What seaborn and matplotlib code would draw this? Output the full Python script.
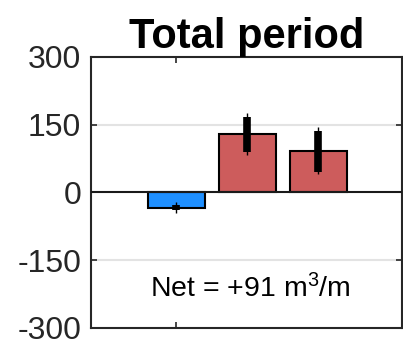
import matplotlib
matplotlib.use("Agg")
import matplotlib.pyplot as plt
import seaborn as sns
import pandas as pd

# Volume change components for the whole period (m^3/m)
components = ["Erosion", "Accretion", "Net"]
positions = [1, 2, 3]
volumes = [-34, 129, 91]
# Inner (thick) and outer (thin) uncertainty ranges
inner_low = [-38, 90, 46]
inner_high = [-27, 168, 136]
outer_low = [-45, 82, 40]
outer_high = [-20, 176, 144]
bar_colors = ["#1E8FFF", "#CD5C5C", "#CD5C5C"]
net_value = 91

sns.set_theme(style="white")
plt.rcParams["font.family"] = ["Liberation Sans", "DejaVu Sans"]
plt.rcParams["mathtext.default"] = "regular"
plt.rcParams["axes.unicode_minus"] = False

df = pd.DataFrame({"component": components, "pos": positions, "volume": volumes})

fig = plt.figure(figsize=(4.03, 3.40), dpi=100)
ax = fig.add_axes([0.2258, 0.0353, 0.7717, 0.7971])

# light grid at +/-150
for yv in (150, -150):
    ax.axhline(yv, color="#e3e3e3", lw=1.5, zorder=0)

sns.barplot(data=df, x="pos", y="volume", hue="component",
            palette=dict(zip(components, bar_colors)), native_scale=True,
            width=0.8, saturation=1, edgecolor="black", linewidth=1.5,
            legend=False, errorbar=None, ax=ax, zorder=2)

ax.axhline(0, color="#1a1a1a", lw=1.5, zorder=3)

ax.vlines(positions, outer_low, outer_high, color="black", lw=1.0, zorder=4)
ax.vlines(positions, inner_low, inner_high, color="black", lw=5.5, zorder=5)

ax.set_xlim(-0.2, 4.18)
ax.set_ylim(-300, 300)
ax.set_yticks([-300, -150, 0, 150, 300])
ax.set_xticks([1])
ax.set_xticklabels([""])
ax.set_xlabel("")
ax.set_ylabel("")

ax.tick_params(axis="y", direction="in", length=4, width=1.2, labelsize=23,
               left=True, right=True, pad=7, colors="#262626", labelcolor="#262626")
ax.tick_params(axis="x", direction="in", length=4, width=1.2, bottom=True,
               top=True, colors="#262626")
for sp in ax.spines.values():
    sp.set_visible(True)
    sp.set_color("#262626")
    sp.set_linewidth(1.5)

ax.set_title("Total period", fontsize=30, fontweight="bold", pad=4, color="black")
ax.text(2.05, -233, f"Net = +{net_value} m$^3$/m", ha="center", va="baseline",
        fontsize=20.5, color="black")

fig.savefig("out.png", dpi=100)
